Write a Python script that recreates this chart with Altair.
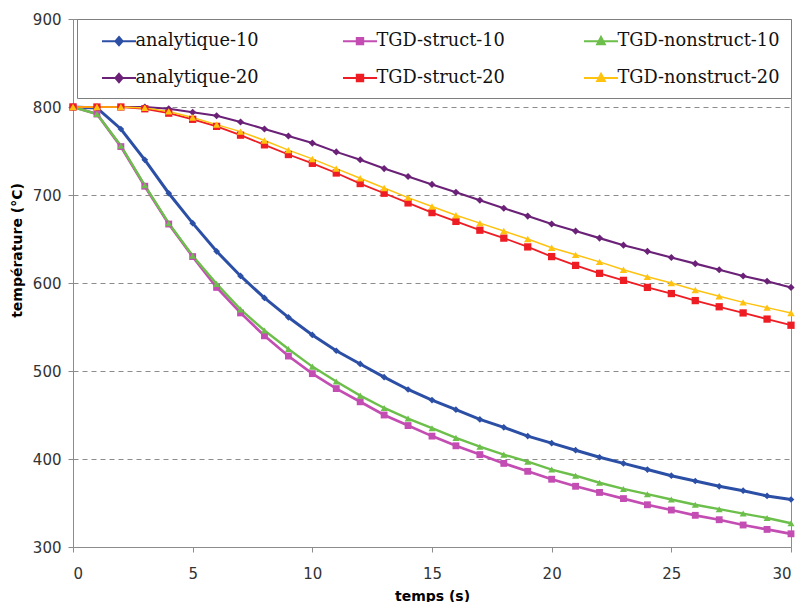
import altair as alt
import pandas as pd

temps = list(range(31))

series_names = ["analytique-10", "TGD-struct-10", "TGD-nonstruct-10",
                "analytique-20", "TGD-struct-20", "TGD-nonstruct-20"]

analytique_10 = [800, 799, 775, 740, 702, 668, 636, 608, 583, 561, 541, 523, 508, 493, 479, 467,
                 456, 445, 436, 426, 418, 410, 402, 395, 388, 381, 375, 369, 364, 358, 354]
tgd_struct_10 = [800, 792, 755, 710, 667, 630, 595, 566, 540, 517, 497, 480, 465, 450, 438, 426,
                 415, 405, 395, 386, 377, 369, 362, 355, 348, 342, 336, 331, 325, 320, 315]
tgd_nonstruct_10 = [800, 792, 756, 711, 668, 631, 599, 570, 546, 525, 505, 488, 472, 458, 446, 435,
                    424, 414, 405, 397, 388, 381, 373, 366, 360, 354, 348, 343, 338, 333, 327]
analytique_20 = [800, 800, 800, 800, 798, 794, 790, 783, 775, 767, 759, 749, 740, 730, 721, 712,
                 703, 694, 685, 676, 667, 659, 651, 643, 636, 629, 622, 615, 608, 602, 595]
tgd_struct_20 = [800, 800, 800, 798, 793, 786, 778, 768, 757, 746, 736, 725, 713, 702, 691, 680,
                 670, 660, 651, 641, 630, 620, 611, 603, 595, 588, 580, 573, 566, 559, 552]
tgd_nonstruct_20 = [800, 800, 800, 799, 795, 788, 780, 772, 762, 751, 741, 730, 719, 708, 697, 687,
                    677, 668, 659, 650, 640, 632, 624, 615, 607, 600, 592, 585, 578, 572, 566]

all_values = [analytique_10, tgd_struct_10, tgd_nonstruct_10,
              analytique_20, tgd_struct_20, tgd_nonstruct_20]

colors = ["#2C4FA6", "#C34DB3", "#6CBF4A", "#6A2177", "#EE1D24", "#FFC20E"]
shapes = ["diamond", "square", "triangle-up", "diamond", "square", "triangle-up"]
line_widths = [3, 1.5, 1.5, 3, 1.5, 1.5]
marker_sizes = [45, 55, 60, 45, 55, 60]
legend_paths = [
    "M-1.7,0L1.7,0M0,-0.42L0.36,0L0,0.42L-0.36,0Z",
    "M-1.7,0L1.7,0M-0.32,-0.32L0.32,-0.32L0.32,0.32L-0.32,0.32Z",
    "M-1.7,0L1.7,0M0,-0.42L0.38,0.3L-0.38,0.3Z",
    "M-1.7,0L1.7,0M0,-0.42L0.36,0L0,0.42L-0.36,0Z",
    "M-1.7,0L1.7,0M-0.32,-0.32L0.32,-0.32L0.32,0.32L-0.32,0.32Z",
    "M-1.7,0L1.7,0M0,-0.42L0.38,0.3L-0.38,0.3Z",
]

x_ticks = [0, 5, 10, 15, 20, 25, 30]
y_ticks = [300, 400, 500, 600, 700, 800, 900]

rows = []
for name, vals in zip(series_names, all_values):
    for t, v in zip(temps, vals):
        rows.append({"temps": t, "temperature": v, "serie": name, "legende": name})
df = pd.DataFrame(rows)

x_enc = alt.X("temps:Q",
              scale=alt.Scale(domain=[0, 30], nice=False, zero=False),
              axis=alt.Axis(title="temps (s)", values=x_ticks, grid=False,
                            labelPadding=14, titlePadding=8))
y_enc = alt.Y("temperature:Q",
              scale=alt.Scale(domain=[300, 900], nice=False, zero=False),
              axis=alt.Axis(title="température (°C)", values=y_ticks, grid=True,
                            gridDash=[5, 4], gridColor="#8c8c8c", gridWidth=1,
                            labelPadding=7, titlePadding=8, titleY=231))

color_scale = alt.Scale(domain=series_names, range=colors)

lines = alt.Chart(df).mark_line().encode(
    x=x_enc, y=y_enc,
    color=alt.Color("serie:N", scale=color_scale, legend=None),
    strokeWidth=alt.StrokeWidth("serie:N", scale=alt.Scale(domain=series_names, range=line_widths), legend=None),
    order="temps:Q",
)

points = alt.Chart(df).mark_point(filled=True, opacity=1).encode(
    x=x_enc, y=y_enc,
    color=alt.Color("serie:N", scale=color_scale, legend=None),
    shape=alt.Shape("serie:N", scale=alt.Scale(domain=series_names, range=shapes), legend=None),
    size=alt.Size("serie:N", scale=alt.Scale(domain=series_names, range=marker_sizes), legend=None),
)

leg = alt.Legend(orient="none", legendX=4, legendY=0, direction="horizontal", columns=3,
                 title=None, padding=11, fillColor="white", strokeColor="#7f7f7f",
                 symbolSize=400, symbolStrokeWidth=2, symbolOffset=20, labelOffset=5.5,
                 columnPadding=31, rowPadding=17, gridAlign="all",
                 labelFont="DejaVu Serif", labelFontSize=17.75, labelColor="#111111",
                 labelLimit=400, symbolOpacity=1)

legend_layer = alt.Chart(df).mark_point(filled=True, opacity=0).encode(
    x=x_enc, y=y_enc,
    fill=alt.Fill("legende:N", scale=alt.Scale(domain=series_names, range=colors), legend=leg),
    stroke=alt.Stroke("legende:N", scale=alt.Scale(domain=series_names, range=colors), legend=leg),
    shape=alt.Shape("legende:N", scale=alt.Scale(domain=series_names, range=legend_paths), legend=leg),
)

chart = alt.layer(lines, points, legend_layer).resolve_scale(
    shape="independent", color="independent", fill="independent", stroke="independent"
).properties(
    width=718, height=528,
    padding={"left": 65, "top": 11, "right": 4, "bottom": 55},
    autosize=alt.AutoSizeParams(type="none"),
    background="white",
).configure_view(
    stroke="#8c8c8c", strokeWidth=1,
).configure_axis(
    domainColor="#8c8c8c", tickColor="#8c8c8c", tickSize=5,
    labelFont="DejaVu Sans", labelFontSize=15, labelColor="#333333",
    titleFont="DejaVu Sans", titleFontSize=14, titleFontWeight="bold", titleColor="#000000",
)

chart.save("out.html", embed_options={"renderer": "svg", "actions": False})
